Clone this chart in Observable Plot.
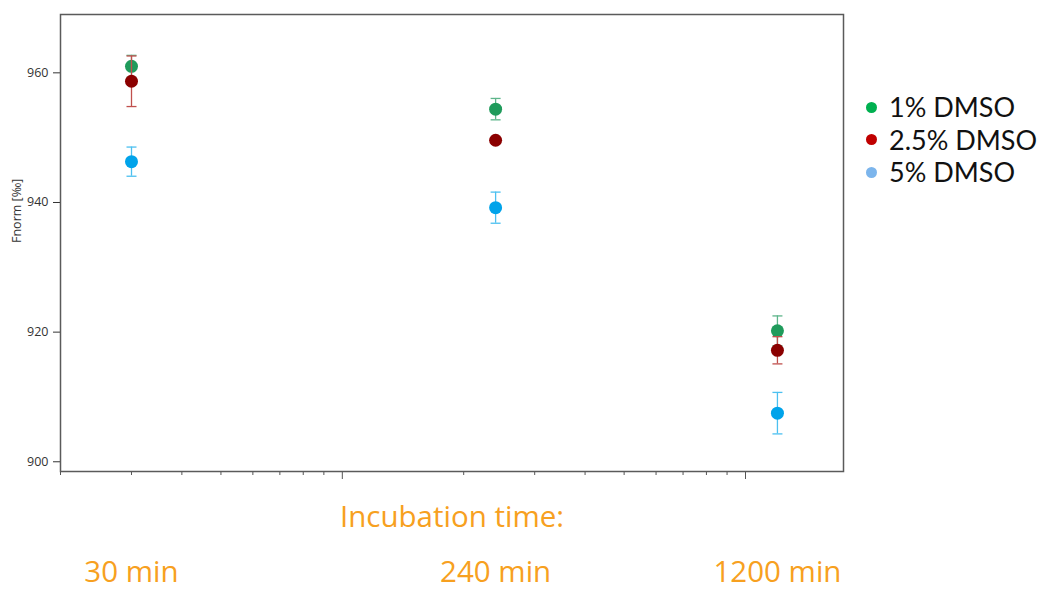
<!DOCTYPE html>
<html><head><meta charset="utf-8">
<script src="https://cdn.jsdelivr.net/npm/d3@7"></script>
<script src="https://cdn.jsdelivr.net/npm/@observablehq/plot@0.6"></script>
<style>
body{margin:0;background:#fff;font-family:"Open Sans",sans-serif;}
#wrap{position:relative;width:1040px;height:590px;}
#legend{position:absolute;left:866px;top:91px;font-family:Lato,"Open Sans",sans-serif;font-size:27px;color:#111;}
.item{display:flex;align-items:center;height:32.5px;}
.sw{width:11px;height:11px;border-radius:50%;margin-right:12px;flex:none;}
.tx{display:inline-block;height:32.5px;line-height:32.5px;white-space:nowrap;}
</style></head><body><div id="wrap"><div id="legend"></div></div>
<script>
const times=[30,240,1200];
const seriesNames=["1% DMSO","2.5% DMSO","5% DMSO"];
const mean1=[961.0,954.4,920.2];
const err1=[1.7,1.65,2.3];
const mean25=[958.7,949.6,917.2];
const err25=[3.9,0.4,2.1];
const mean5=[946.3,939.2,907.5];
const err5=[2.25,2.4,3.2];
const pointColors=["#1f9b5b","#8b0000","#00a3ea"];
const barColors=["#5db58a","#c0504d","#4cc0f0"];
const legendColors=["#00b050","#c00000","#7cb5ec"];
const minorTicks=[20,30,40,50,60,70,80,90,200,300,400,500,600,700,800,900];
const majorTicks=[100,1000];
const yTicks=[900,920,940,960];
const timeLabels=["30 min","240 min","1200 min"];
const yLabel="Fnorm [‰]";
const xTitle="Incubation time:";

const means=[mean1,mean25,mean5];
const errs=[err1,err25,err5];
const cap={draw(ctx){ctx.moveTo(-5,0);ctx.lineTo(5,0);}};

const seriesMarks=[];
seriesNames.forEach((name,s)=>{
  const rows=times.map((t,i)=>({t,m:means[s][i],e:errs[s][i],name}));
  seriesMarks.push(
    Plot.ruleX(rows,{x:"t",y1:d=>d.m-d.e,y2:d=>d.m+d.e,stroke:barColors[s],strokeWidth:1.3}),
    Plot.dot(rows,{x:"t",y:d=>d.m+d.e,symbol:cap,stroke:barColors[s],strokeWidth:1.3}),
    Plot.dot(rows,{x:"t",y:d=>d.m-d.e,symbol:cap,stroke:barColors[s],strokeWidth:1.3}),
    Plot.dot(rows,{x:"t",y:"m",r:6.5,fill:pointColors[s]})
  );
});

const chart=Plot.plot({
  width:1040,height:590,
  marginLeft:60,marginRight:197,marginTop:14,marginBottom:119,
  style:{fontFamily:"Open Sans",background:"#fff"},
  x:{type:"log",domain:[20,1750]},
  y:{domain:[898.5,969]},
  marks:[
    Plot.axisY({ticks:yTicks,tickSize:7,tickPadding:5,fontSize:12.5,color:"#333",label:null}),
    Plot.text([yLabel],{frameAnchor:"left",rotate:-90,dx:-44,fontSize:12.5,fill:"#333"}),
    Plot.axisX({ticks:minorTicks,tickSize:4,tickFormat:()=>"",label:null,color:"#555"}),
    Plot.axisX({ticks:majorTicks,tickSize:8,tickFormat:()=>"",label:null,color:"#555"}),
    Plot.axisX({ticks:times,tickSize:0,tickPadding:90,tickFormat:(d)=>timeLabels[times.indexOf(d)],fontSize:29.5,color:"#f7a020",label:null}),
    Plot.text([xTitle],{frameAnchor:"bottom",dy:55,fontSize:29.5,fill:"#f7a020"}),
    Plot.frame({stroke:"#5a5a5a",strokeWidth:1.5}),
    ...seriesMarks
  ]
});
document.getElementById("wrap").prepend(chart);
const lg=document.getElementById("legend");
seriesNames.forEach((n,i)=>{
  const it=document.createElement("div");it.className="item";
  const sw=document.createElement("span");sw.className="sw";sw.style.background=legendColors[i];
  const tx=document.createElement("span");tx.className="tx";tx.textContent=n;
  it.append(sw,tx);lg.append(it);
});
</script></body></html>
